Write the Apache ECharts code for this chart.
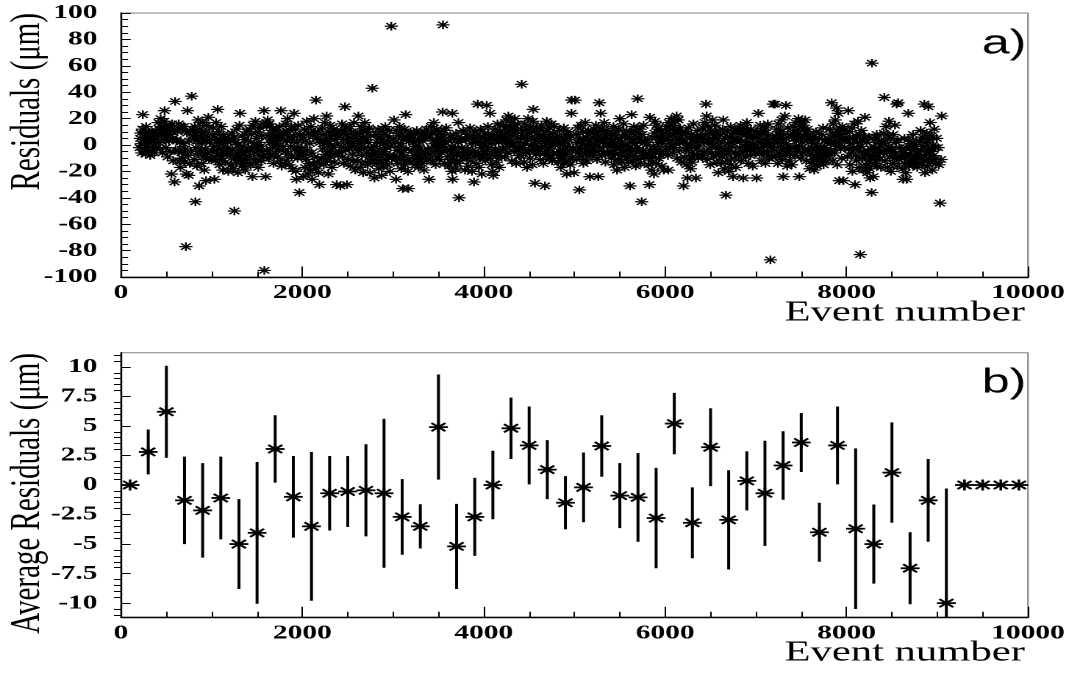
<!DOCTYPE html>
<html>
<head>
<meta charset="utf-8">
<title>Residuals vs event number</title>
<script src="https://cdn.jsdelivr.net/npm/echarts@6/dist/echarts.min.js"></script>
<style>
  html, body { margin: 0; padding: 0; background: #fff; overflow: hidden; }
  #stage { position: relative; width: 1069px; height: 673px; overflow: hidden; background: #fff; }
  /* the plot is laid out on a narrower canvas and widened horizontally */
  #chart { position: absolute; left: 0; top: 0; width: 727px; height: 673px;
           transform-origin: 0 0; transform: scaleX(1.4704); }
</style>
</head>
<body>
<div id="stage"><div id="chart"></div></div>
<script>
// ---- panel a: single-track residuals, [event number, residual in um] ----
const residualHits = [
  [205,-2],[212,5],[218,9],[224,1],[229,-6],[236,12],[240,23],[247,4],[253,-3],[259,8],[266,2],[271,-7],[277,14],[284,6],[290,0],[296,-5],[303,10],[309,2],[316,5],[322,-8],[328,6],[335,3],[341,-4],[348,8],[355,0],[361,9],[368,-6],[374,4],[381,11],[392,-2],
  [405,8],[412,17],[418,2],[425,12],[431,-3],[437,20],[444,7],[450,14],[457,-6],[463,11],[470,4],[476,18],[480,26],[487,9],[494,-2],[500,15],[507,6],[514,-9],[521,13],[528,3],[535,10],[542,-5],[549,8],[556,-22],[562,16],[569,5],[576,-12],[583,12],[590,-28],[596,33],
  [604,-4],[610,4],[617,3],[623,10],[630,-4],[636,16],[643,-12],[649,2],[655,-17],[662,14],[668,-6],[675,12],[681,-10],[688,1],[694,14],[701,-13],[708,-3],[715,-77],[721,-22],[727,9],[733,26],[739,-8],[745,-23],[751,3],[758,-14],[764,11],[770,-5],[779,37],[786,12],[793,7],
  [804,5],[809,-11],[815,14],[820,-43],[826,-2],[832,9],[838,-16],[845,3],[851,19],[857,-7],[861,-31],[868,12],[874,-4],[880,7],[887,-14],[893,1],[899,17],[906,-9],[912,4],[918,-19],[925,10],[931,-3],[937,-27],[943,15],[950,-6],[956,6],[963,21],[970,-11],[978,2],[990,-10],
  [1004,8],[1010,-5],[1016,13],[1023,-1],[1029,-26],[1035,6],[1041,-12],[1048,17],[1054,2],[1060,-8],[1066,27],[1073,-3],[1079,10],[1086,-15],[1092,4],[1098,-6],[1105,14],[1111,-10],[1117,1],[1124,-19],[1130,8],[1137,-4],[1143,5],[1150,-13],[1156,3],[1163,-7],[1169,-4],[1176,-2],[1183,-20],[1192,5],
  [1204,-8],[1210,3],[1216,-15],[1223,9],[1229,-4],[1236,-18],[1242,6],[1250,-50],[1256,-10],[1262,2],[1269,-13],[1275,12],[1281,-6],[1288,-21],[1294,0],[1300,-9],[1306,15],[1312,24],[1319,-12],[1325,-3],[1331,-16],[1338,7],[1344,-7],[1351,-1],[1357,-14],[1364,4],[1370,-19],[1377,-5],[1384,10],[1393,-11],
  [1404,3],[1410,-9],[1417,12],[1423,-4],[1430,-15],[1436,8],[1442,-2],[1449,-24],[1455,15],[1461,-11],[1468,1],[1474,-6],[1481,18],[1487,-13],[1494,5],[1500,-3],[1507,10],[1513,-17],[1520,2],[1526,-8],[1533,13],[1539,-1],[1546,-12],[1552,7],[1559,-5],[1565,16],[1572,-9],[1577,26],[1580,-95],[1594,-24],
  [1604,14],[1610,-4],[1617,19],[1623,7],[1630,-10],[1636,16],[1643,2],[1649,-7],[1656,5],[1662,9],[1669,-2],[1675,13],[1681,-14],[1688,5],[1694,1],[1701,-6],[1707,11],[1714,1],[1720,6],[1727,-9],[1733,8],[1740,-3],[1746,14],[1753,-12],[1759,4],[1764,26],[1771,-16],[1777,6],[1784,-1],[1793,10],
  [1804,9],[1810,-5],[1816,16],[1823,-12],[1829,3],[1836,20],[1842,-7],[1849,6],[1855,-15],[1862,11],[1868,-1],[1875,14],[1881,-9],[1888,4],[1894,-18],[1901,7],[1908,24],[1914,-3],[1921,12],[1927,-20],[1934,-26],[1940,2],[1947,-10],[1953,15],[1960,-4],[1966,-36],[1973,8],[1979,-6],[1986,-7],[1994,-2],
  [2004,6],[2010,-24],[2016,-8],[2023,12],[2029,-17],[2036,3],[2042,-11],[2049,18],[2055,-4],[2062,-22],[2068,9],[2075,-14],[2081,1],[2088,-19],[2094,14],[2101,-6],[2107,-26],[2114,7],[2121,-15],[2127,20],[2134,-9],[2140,10],[2147,-18],[2150,34],[2157,5],[2163,-13],[2170,10],[2176,-21],[2187,-30],[2195,2],
  [2204,4],[2210,-10],[2217,13],[2223,-3],[2230,8],[2236,-15],[2243,1],[2249,17],[2256,-7],[2262,5],[2267,22],[2274,-12],[2280,3],[2286,-22],[2293,10],[2299,-5],[2306,15],[2312,-9],[2319,0],[2325,-17],[2332,7],[2338,-2],[2345,12],[2351,-13],[2358,4],[2364,-6],[2371,9],[2378,-30],[2385,1],[2394,-8],
  [2404,7],[2410,-6],[2418,-31],[2424,11],[2430,-2],[2437,16],[2443,-9],[2450,4],[2456,-14],[2463,9],[2469,29],[2476,-4],[2482,13],[2491,-30],[2497,2],[2504,-11],[2510,6],[2517,-3],[2523,14],[2530,-16],[2536,1],[2543,10],[2549,-7],[2556,5],[2562,-12],[2569,17],[2575,-1],[2582,-19],[2588,8],[2596,-3],
  [2604,3],[2610,-12],[2617,22],[2623,-4],[2630,9],[2636,-17],[2643,1],[2649,14],[2656,-8],[2662,6],[2669,-21],[2675,11],[2682,-2],[2688,17],[2695,-13],[2701,4],[2708,-6],[2714,10],[2721,-15],[2727,2],[2734,13],[2740,-9],[2746,-21],[2753,7],[2759,-3],[2765,-7],[2771,43],[2778,-11],[2786,-1],[2794,-25],
  [2804,-6],[2810,8],[2817,-14],[2823,2],[2830,-9],[2836,12],[2843,-18],[2849,-3],[2856,6],[2862,-12],[2869,4],[2874,-23],[2881,-7],[2888,10],[2894,-16],[2901,1],[2907,-5],[2914,14],[2920,-11],[2927,-2],[2933,7],[2940,-15],[2946,3],[2953,-8],[2959,11],[2966,-20],[2972,-1],[2980,90],[2987,-10],[2995,-9],
  [3004,5],[3010,19],[3016,-8],[3023,2],[3032,-26],[3038,11],[3045,-4],[3051,-14],[3058,7],[3064,-2],[3071,14],[3077,-11],[3084,1],[3090,-18],[3097,9],[3103,-6],[3106,-33],[3113,4],[3119,-9],[3126,12],[3132,-15],[3138,23],[3145,-3],[3151,-12],[3158,6],[3164,-20],[3168,-33],[3175,3],[3183,7],[3192,10],
  [3204,-4],[3210,5],[3216,-12],[3223,2],[3229,-8],[3236,8],[3242,-15],[3249,-1],[3255,-6],[3262,11],[3268,-10],[3275,0],[3281,-17],[3288,4],[3294,-3],[3301,-11],[3307,7],[3314,-7],[3320,-14],[3327,3],[3333,8],[3340,-19],[3346,9],[3353,-5],[3359,-9],[3366,12],[3372,-12],[3379,6],[3386,-3],[3396,-26],
  [3404,6],[3410,-7],[3417,14],[3423,-2],[3430,9],[3436,-12],[3443,3],[3449,17],[3456,-5],[3462,10],[3469,-15],[3475,1],[3482,12],[3488,-9],[3495,6],[3501,-3],[3508,0],[3514,-11],[3521,4],[3527,5],[3534,-6],[3540,8],[3546,25],[3550,91],[3557,-1],[3563,11],[3570,-14],[3576,2],[3584,13],[3593,-4],
  [3604,-9],[3610,3],[3617,-16],[3623,-4],[3630,7],[3636,-13],[3643,-1],[3649,-20],[3653,24],[3656,-26],[3662,-7],[3669,5],[3675,-11],[3682,-3],[3688,-18],[3695,9],[3701,-8],[3708,-14],[3714,2],[3720,17],[3727,-40],[3733,-6],[3740,-12],[3746,4],[3753,5],[3759,-2],[3766,-9],[3772,11],[3781,-5],[3792,-19],
  [3804,4],[3810,-10],[3817,8],[3823,-3],[3830,-16],[3836,6],[3843,-7],[3849,13],[3856,-12],[3862,1],[3869,-20],[3875,5],[3881,-4],[3892,-28],[3898,10],[3905,-8],[3911,2],[3918,-14],[3924,7],[3933,31],[3939,-6],[3946,-17],[3952,3],[3959,-10],[3965,12],[3972,-2],[3978,-22],[3985,0],[3991,-9],[3997,6],
  [4004,-5],[4010,9],[4016,-12],[4023,3],[4032,30],[4038,-7],[4045,14],[4051,-2],[4058,6],[4068,24],[4074,-10],[4081,1],[4087,-15],[4094,8],[4100,-20],[4105,-23],[4112,4],[4118,-6],[4125,12],[4131,-3],[4138,-13],[4144,7],[4151,16],[4157,-8],[4164,2],[4170,-17],[4177,10],[4183,-4],[4190,5],[4196,-9],
  [4204,8],[4210,-3],[4217,15],[4223,4],[4230,-9],[4236,12],[4243,1],[4249,19],[4256,6],[4262,-6],[4271,22],[4277,10],[4284,-1],[4290,14],[4297,3],[4303,17],[4310,-12],[4316,8],[4323,0],[4329,13],[4336,-5],[4342,20],[4349,7],[4355,-14],[4362,11],[4368,2],[4375,16],[4381,-4],[4388,-8],[4396,-2],
  [4404,5],[4410,-8],[4418,46],[4424,11],[4431,-2],[4437,7],[4444,-13],[4450,16],[4457,1],[4463,-6],[4470,12],[4476,-17],[4483,4],[4489,20],[4496,-4],[4502,9],[4509,-10],[4515,14],[4522,0],[4528,6],[4535,-15],[4541,18],[4546,27],[4552,-3],[4558,10],[4564,-29],[4571,3],[4577,-7],[4584,13],[4593,-1],
  [4604,7],[4610,-5],[4617,12],[4623,-11],[4630,3],[4636,15],[4643,-2],[4649,8],[4656,-14],[4662,5],[4668,-6],[4674,-31],[4681,10],[4687,1],[4694,18],[4700,-8],[4707,4],[4713,-3],[4720,13],[4726,-10],[4733,6],[4739,-1],[4746,16],[4752,-12],[4759,2],[4765,9],[4772,-7],[4778,14],[4785,0],[4794,6],
  [4804,-6],[4810,5],[4817,-13],[4823,2],[4830,-8],[4836,11],[4843,-3],[4849,-17],[4856,6],[4862,-10],[4869,1],[4875,-5],[4882,13],[4888,-14],[4895,3],[4901,-7],[4908,8],[4914,-22],[4921,-1],[4927,10],[4934,-12],[4940,4],[4947,-4],[4953,-15],[4960,7],[4966,24],[4969,34],[4976,-9],[4985,-2],[4994,-21],
  [5005,34],[5011,-4],[5017,8],[5024,-11],[5030,2],[5037,13],[5043,-6],[5053,-34],[5059,5],[5066,-2],[5072,15],[5079,-9],[5085,1],[5092,10],[5098,-14],[5105,4],[5111,-3],[5118,17],[5124,-7],[5131,6],[5137,-12],[5144,0],[5150,11],[5157,-5],[5163,3],[5170,-24],[5176,9],[5183,-1],[5189,-4],[5196,-8],
  [5204,6],[5210,-7],[5217,12],[5223,1],[5230,-4],[5236,15],[5243,8],[5249,-11],[5256,3],[5262,-24],[5268,10],[5274,32],[5281,-2],[5289,24],[5295,5],[5302,-8],[5308,13],[5315,2],[5321,-5],[5328,17],[5334,7],[5341,-13],[5347,4],[5354,11],[5360,-1],[5367,9],[5373,-6],[5380,-7],[5387,0],[5395,8],
  [5404,3],[5410,-10],[5417,7],[5423,-4],[5430,14],[5436,-15],[5443,1],[5449,-7],[5456,10],[5462,-2],[5469,-19],[5475,5],[5482,-11],[5488,12],[5495,-3],[5501,20],[5508,-8],[5514,2],[5521,-13],[5527,6],[5534,-1],[5540,16],[5547,-6],[5553,-17],[5560,8],[5566,-4],[5573,11],[5579,-9],[5586,0],[5594,-13],
  [5604,5],[5612,-31],[5618,-6],[5624,9],[5630,23],[5637,-3],[5643,-12],[5650,4],[5656,14],[5663,-8],[5669,1],[5676,-16],[5682,10],[5689,-2],[5697,35],[5703,-11],[5710,6],[5716,-5],[5723,12],[5729,-14],[5735,3],[5741,-43],[5748,8],[5754,-4],[5761,15],[5767,-9],[5774,2],[5780,-8],[5787,-7],[5795,0],
  [5804,-8],[5810,4],[5817,-15],[5825,-30],[5832,21],[5838,-4],[5845,-12],[5850,-19],[5857,6],[5863,-9],[5870,-1],[5876,-22],[5882,9],[5887,18],[5894,-6],[5900,-14],[5905,15],[5912,-3],[5918,12],[5925,2],[5931,-10],[5938,7],[5944,5],[5951,-5],[5957,11],[5964,-16],[5970,1],[5977,-7],[5985,-19],[5994,4],
  [6004,9],[6010,-3],[6017,14],[6023,4],[6030,-8],[6034,-19],[6041,17],[6047,7],[6054,-1],[6060,12],[6067,20],[6073,3],[6080,-6],[6086,15],[6093,8],[6099,-2],[6106,11],[6112,18],[6119,1],[6126,22],[6132,-10],[6139,9],[6145,19],[6152,4],[6158,-4],[6165,13],[6171,6],[6178,-13],[6185,10],[6194,2],
  [6203,-31],[6209,2],[6215,-9],[6222,10],[6228,-4],[6235,-15],[6241,6],[6246,-25],[6253,-2],[6259,13],[6266,-11],[6272,1],[6279,-18],[6285,8],[6292,-6],[6298,-13],[6305,4],[6311,16],[6318,-8],[6324,-1],[6331,4],[6339,-25],[6345,7],[6352,-3],[6358,11],[6365,-10],[6371,0],[6378,5],[6385,5],[6394,-7],
  [6404,6],[6410,-8],[6417,13],[6423,2],[6430,-5],[6436,17],[6443,8],[6450,31],[6457,22],[6463,-11],[6470,4],[6476,14],[6483,-3],[6489,9],[6496,-15],[6502,1],[6509,11],[6515,-6],[6522,19],[6528,3],[6535,-9],[6541,7],[6548,15],[6554,-2],[6561,10],[6567,-13],[6574,5],[6580,-1],[6586,-21],[6594,-7],
  [6604,-5],[6610,8],[6617,-14],[6623,2],[6630,-9],[6636,12],[6641,19],[6648,-3],[6654,-18],[6661,5],[6670,-38],[6676,-7],[6683,10],[6689,-12],[6696,1],[6702,-20],[6709,6],[6715,-4],[6722,14],[6728,-15],[6735,-1],[6741,7],[6748,-24],[6754,3],[6761,-10],[6767,11],[6774,-6],[6780,-17],[6787,4],[6795,11],
  [6804,4],[6810,-7],[6817,11],[6823,-2],[6830,15],[6836,-12],[6843,3],[6849,8],[6856,-5],[6861,-25],[6868,9],[6874,-1],[6881,13],[6887,-9],[6894,2],[6900,17],[6907,-4],[6913,6],[6920,-14],[6926,10],[6933,0],[6939,-8],[6946,12],[6952,-3],[6959,5],[6965,-16],[6972,8],[6978,1],[6985,-2],[6994,-6],
  [7004,6],[7008,-25],[7015,10],[7021,-3],[7027,24],[7034,8],[7040,-7],[7047,15],[7053,2],[7060,-12],[7066,11],[7073,4],[7079,-5],[7086,-6],[7092,-1],[7099,9],[7105,-14],[7112,13],[7118,3],[7125,-6],[7131,16],[7138,7],[7144,-10],[7151,1],[7157,1],[7160,-87],[7167,-2],[7175,-9],[7183,5],[7192,31],
  [7204,-4],[7211,31],[7217,7],[7224,-9],[7230,12],[7237,2],[7243,-14],[7250,16],[7256,5],[7263,-6],[7269,10],[7276,-1],[7282,19],[7289,-11],[7295,4],[7302,-24],[7308,8],[7314,-3],[7319,22],[7326,-8],[7332,30],[7339,1],[7345,-16],[7352,13],[7358,-5],[7365,6],[7371,-12],[7378,-7],[7385,-2],[7394,-15],
  [7404,9],[7410,-2],[7417,14],[7423,5],[7430,-8],[7436,17],[7443,3],[7449,11],[7456,-5],[7462,8],[7469,20],[7475,-1],[7479,-24],[7486,18],[7492,6],[7499,-10],[7505,13],[7512,2],[7518,-6],[7525,15],[7531,7],[7538,-3],[7544,19],[7551,10],[7557,-12],[7564,4],[7570,12],[7577,-4],[7584,8],[7593,-18],
  [7604,-7],[7610,3],[7617,-14],[7623,-2],[7630,6],[7636,-11],[7643,-19],[7649,1],[7656,-8],[7662,10],[7669,-4],[7675,-16],[7682,-1],[7688,-9],[7695,5],[7701,-13],[7708,-5],[7714,-3],[7721,8],[7727,-10],[7734,-6],[7740,13],[7747,-15],[7753,-2],[7760,-2],[7766,4],[7773,-8],[7779,-12],[7786,2],[7794,-5],
  [7804,5],[7810,-8],[7817,12],[7823,1],[7829,-4],[7835,32],[7842,9],[7848,-12],[7855,16],[7861,3],[7868,-6],[7874,19],[7880,7],[7886,-1],[7891,28],[7898,-15],[7904,10],[7909,24],[7916,2],[7920,-27],[7927,13],[7933,-3],[7940,8],[7946,-10],[7953,14],[7959,4],[7964,-27],[7971,11],[7979,-2],[7990,6],
  [8004,4],[8010,-9],[8019,26],[8025,-3],[8032,10],[8038,-15],[8045,1],[8051,-6],[8058,13],[8064,-20],[8071,5],[8077,-2],[8084,16],[8093,-30],[8099,-8],[8106,7],[8112,-12],[8119,2],[8125,18],[8132,-4],[8138,-17],[8145,8],[8150,-83],[8157,-1],[8163,11],[8170,-10],[8176,3],[8183,-19],[8190,6],[8197,-5],
  [8202,21],[8208,-8],[8215,-15],[8221,2],[8228,-21],[8234,-5],[8241,-12],[8247,6],[8254,-18],[8260,-25],[8266,-3],[8272,-10],[8276,-36],[8280,62],[8287,-7],[8293,-24],[8300,-1],[8306,-14],[8313,4],[8319,6],[8326,-9],[8332,8],[8339,-16],[8345,-4],[8352,-2],[8358,3],[8365,-11],[8371,-6],[8380,-17],[8392,1],
  [8404,-6],[8410,9],[8416,36],[8423,-12],[8429,3],[8436,14],[8442,-4],[8449,-17],[8455,7],[8462,-1],[8468,18],[8475,-9],[8481,5],[8488,-20],[8494,-5],[8501,-3],[8507,-14],[8514,8],[8520,-8],[8527,-10],[8533,15],[8540,-6],[8546,2],[8552,31],[8559,-16],[8565,4],[8569,32],[8576,-11],[8584,-2],[8593,-8],
  [8604,-10],[8610,-3],[8617,-18],[8625,-26],[8631,-6],[8638,5],[8644,-14],[8651,-21],[8657,-2],[8662,-26],[8669,-9],[8675,4],[8681,24],[8688,-16],[8694,-7],[8701,-12],[8707,1],[8714,-1],[8720,-4],[8727,-11],[8733,8],[8740,-15],[8746,-8],[8753,-3],[8759,-1],[8766,-13],[8772,3],[8779,-17],[8786,-5],[8794,-9],
  [8804,3],[8810,-9],[8817,11],[8823,-4],[8830,-15],[8836,6],[8843,-1],[8849,-12],[8857,31],[8865,-21],[8871,2],[8878,-7],[8884,9],[8891,-16],[8897,-3],[8902,29],[8909,-10],[8915,4],[8920,17],[8927,-13],[8933,-5],[8940,7],[8946,-19],[8953,0],[8959,-8],[8966,12],[8972,-11],[8979,-2],[8986,-14],[8994,5],
  [9008,-2],[9018,-15],[9030,-44],[9042,-11],[9049,22]
];

// ---- panel b: mean residual per 200-event block ----
const blockCentre = [100,300,500,700,900,1100,1300,1500,1700,1900,2100,2300,2500,2700,2900,3100,3300,3500,3700,3900,
  4100,4300,4500,4700,4900,5100,5300,5500,5700,5900,6100,6300,6500,6700,6900,7100,7300,7500,7700,7900,
  8100,8300,8500,8700,8900,9100,9300,9500,9700,9900];
const blockMean = [0,2.8,6.2,-1.3,-2.15,-1.1,-5.0,-4.05,3.05,-1.0,-3.5,-0.7,-0.55,-0.45,-0.7,-2.7,-3.5,4.9,-5.2,-2.7,
  0.0,4.8,3.35,1.3,-1.5,-0.2,3.3,-0.9,-1.05,-2.8,5.2,-3.2,3.2,-2.95,0.35,-0.7,1.65,3.6,-4.0,3.35,
  -3.7,-5.0,1.05,-7.05,-1.3,-10.0,0,0,0,0];
const blockError = [0,1.9,3.9,3.7,4.0,3.5,3.8,6.0,2.85,3.45,6.3,3.15,3.0,3.9,6.3,3.2,1.87,4.45,3.6,3.3,
  2.9,2.6,3.3,2.5,2.25,2.95,2.6,2.75,3.75,4.25,2.6,3.0,3.3,4.2,2.5,4.45,2.9,2.5,2.5,3.3,
  6.8,3.35,4.25,3.05,3.5,9.7,0,0,0,0];

// ---- axis tick values ----
const residualTicks = [-100,-80,-60,-40,-20,0,20,40,60,80,100];
const meanTicks = [-10,-7.5,-5,-2.5,0,2.5,5,7.5,10];
const eventTicks = [0,2000,4000,6000,8000,10000];

const meanMinorTicks = [];
for (let k = -22; k <= 22; k++) {
  const v = k * 0.5;
  if (meanTicks.indexOf(v) < 0) meanMinorTicks.push(v);
}

const blockPoints = blockCentre.map((x, i) => [x, blockMean[i], blockError[i]]);

const SERIF = '"Liberation Serif", "Times New Roman", serif';
const SANS = '"Liberation Sans", Arial, sans-serif';

// ROOT-style asterisk: plus sign overlaid with a cross
function asterisk(cx, cy, rx, ry, lw) {
  const dx = rx * 0.74, dy = ry * 0.74;
  const st = () => ({ stroke: '#000', lineWidth: lw, fill: null });
  return [
    { type: 'line', shape: { x1: cx - rx, y1: cy, x2: cx + rx, y2: cy }, style: st() },
    { type: 'line', shape: { x1: cx, y1: cy - ry, x2: cx, y2: cy + ry }, style: st() },
    { type: 'line', shape: { x1: cx - dx, y1: cy - dy, x2: cx + dx, y2: cy + dy }, style: st() },
    { type: 'line', shape: { x1: cx - dx, y1: cy + dy, x2: cx + dx, y2: cy - dy }, style: st() }
  ];
}

const tickFont = { color: '#000', fontFamily: SERIF, fontWeight: 'bold', fontSize: 20 };

function eventAxis(gridIndex) {
  return {
    type: 'value', gridIndex, min: eventTicks[0], max: eventTicks[eventTicks.length - 1], interval: 2000,
    axisLine: { show: true, onZero: false, lineStyle: { color: '#000', width: 1.4 } },
    axisTick: { show: true, inside: true, length: 10.5, lineStyle: { color: '#000', width: 1 } },
    minorTick: { show: true, splitNumber: 4, length: 5.5, lineStyle: { color: '#000', width: 1 } },
    splitLine: { show: false }, minorSplitLine: { show: false },
    axisLabel: Object.assign({ margin: 6, formatter: v => String(v) }, tickFont)
  };
}

const GRID_LEFT = 82.3, GRID_W = 616.8;

const option = {
  animation: false,
  backgroundColor: '#fff',
  grid: [
    { left: GRID_LEFT, top: 13, width: GRID_W, height: 264, show: true, borderColor: '#808080', borderWidth: 1, backgroundColor: 'transparent', outerBoundsMode: 'none' },
    { left: GRID_LEFT, top: 352.7, width: GRID_W, height: 264.6, show: true, borderColor: '#808080', borderWidth: 1, backgroundColor: 'transparent', outerBoundsMode: 'none' }
  ],
  xAxis: [eventAxis(0), eventAxis(1)],
  yAxis: [
    {
      type: 'value', gridIndex: 0, min: residualTicks[0], max: residualTicks[residualTicks.length - 1], interval: 20,
      axisLine: { show: true, onZero: false, lineStyle: { color: '#000', width: 1.2 } },
      axisTick: { show: true, inside: true, length: 6.6, lineStyle: { color: '#000', width: 1 } },
      minorTick: { show: true, splitNumber: 4, length: 4.8, lineStyle: { color: '#000', width: 1 } },
      splitLine: { show: false }, minorSplitLine: { show: false },
      axisLabel: Object.assign({ margin: 16, formatter: v => String(v) }, tickFont)
    },
    {
      type: 'value', gridIndex: 1, min: -11.2, max: 11.2,
      axisLine: { show: true, onZero: false, lineStyle: { color: '#000', width: 1.2 } },
      axisTick: { show: true, inside: true, length: 6.6, customValues: meanTicks, lineStyle: { color: '#000', width: 1 } },
      splitLine: { show: false },
      axisLabel: Object.assign({ margin: 16, customValues: meanTicks, formatter: v => String(v) }, tickFont)
    },
    {
      type: 'value', gridIndex: 1, min: -11.2, max: 11.2,
      axisLine: { show: false },
      axisTick: { show: true, inside: true, length: 4.8, customValues: meanMinorTicks, lineStyle: { color: '#000', width: 1 } },
      splitLine: { show: false },
      axisLabel: { show: false }
    }
  ],
  graphic: [
    { type: 'text', x: 697, y: 313, silent: true,
      style: { text: 'Event number', font: '29px ' + SERIF, fill: '#000', textAlign: 'right', textVerticalAlign: 'middle' } },
    { type: 'text', x: 697, y: 653, silent: true,
      style: { text: 'Event number', font: '29px ' + SERIF, fill: '#000', textAlign: 'right', textVerticalAlign: 'middle' } },
    { type: 'text', x: 19, y: 13, rotation: Math.PI / 2, silent: true,
      style: { text: 'Residuals (\u03bcm)', font: '29px ' + SERIF, fill: '#000', textAlign: 'right', textVerticalAlign: 'middle' } },
    { type: 'text', x: 19, y: 353, rotation: Math.PI / 2, silent: true,
      style: { text: 'Average Residuals (\u03bcm)', font: '29px ' + SERIF, fill: '#000', textAlign: 'right', textVerticalAlign: 'middle' } },
    { type: 'text', x: 698, y: 44, silent: true,
      style: { text: 'a)', font: '34px ' + SANS, fill: '#000', textAlign: 'right', textVerticalAlign: 'middle' } },
    { type: 'text', x: 698, y: 383, silent: true,
      style: { text: 'b)', font: '34px ' + SANS, fill: '#000', textAlign: 'right', textVerticalAlign: 'middle' } }
  ],
  series: [
    {
      name: 'Residuals', type: 'custom', xAxisIndex: 0, yAxisIndex: 0, silent: true,
      data: residualHits,
      renderItem: (params, api) => {
        const p = api.coord([api.value(0), api.value(1)]);
        return { type: 'group', children: asterisk(p[0], p[1], 4.5, 4.3, 1.2) };
      }
    },
    {
      name: 'Average residuals', type: 'custom', xAxisIndex: 1, yAxisIndex: 1, silent: true,
      data: blockPoints,
      renderItem: (params, api) => {
        const x = api.value(0), m = api.value(1), e = api.value(2);
        const c = api.coord([x, m]);
        const cs = params.coordSys;
        const children = [];
        if (e > 0) {
          const top = Math.max(api.coord([x, m + e])[1], cs.y);
          const bot = Math.min(api.coord([x, m - e])[1], cs.y + cs.height);
          children.push({ type: 'line', shape: { x1: c[0], y1: top, x2: c[0], y2: bot },
                          style: { stroke: '#000', lineWidth: 2 } });
        }
        return { type: 'group', children: children.concat(asterisk(c[0], c[1], 6.4, 5.5, 1.8)) };
      }
    }
  ]
};

const chart = echarts.init(document.getElementById('chart'), null, { renderer: 'canvas', devicePixelRatio: 2 });
chart.setOption(option);
</script>
</body>
</html>
